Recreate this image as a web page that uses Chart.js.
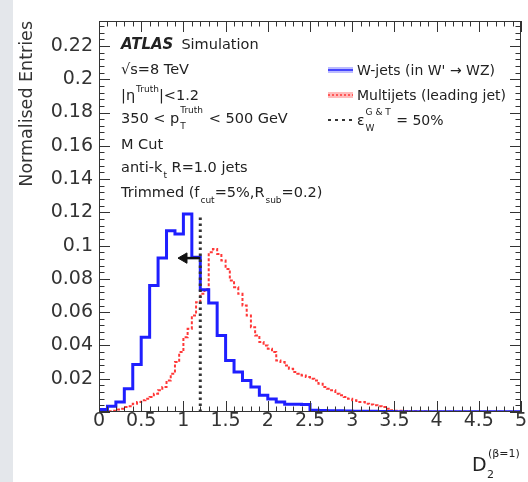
<!DOCTYPE html>
<html><head><meta charset="utf-8">
<script src="https://cdn.jsdelivr.net/npm/chart.js@4/dist/chart.umd.min.js"></script>
<style>
html,body{margin:0;padding:0;background:#fff;}
body{width:528px;height:482px;position:relative;overflow:hidden;}
#strip{position:absolute;left:0;top:0;width:13px;height:482px;background:#e4e7eb;}
#wrap{position:absolute;left:0;top:0;width:528px;height:482px;}
</style></head><body>
<div id="strip"></div>
<div id="wrap"><canvas id="c" width="528" height="482"></canvas></div>
<script>
// ---------------- data ----------------
const blueBinWidth = 0.1;
const blueValues = [
 0.0015,0.0035,0.0060,0.0140,0.0285,0.0450,0.0760,0.0925,0.1090,0.1070,
 0.1190,0.0930,0.0735,0.0655,0.0460,0.0310,0.0240,0.0190,0.0150,0.0100,
 0.0078,0.0060,0.0047,0.0046,0.0045,0.0010,0.0009,0.0008,0.0007,0.0006,
 0.0005,0.0004,0.0004,0.0003,0.0003,0.0002,0.0002,0.0002,0.0001,0.0001,
 0.0001,0.0001,0.0001,0.0001,0.0001,0.0001,0.0001,0.0001,0.0001,0.0001];
const redBinWidth = 0.05;
const redValues = [
 0.0003,0.0003,0.0005,0.0008,0.0015,0.0020,0.0030,0.0035,0.0050,0.0060,
 0.0070,0.0080,0.0090,0.0110,0.0130,0.0150,0.0190,0.0230,0.0300,0.0360,
 0.0450,0.0500,0.0580,0.0660,0.0710,0.0740,0.0960,0.0980,0.0950,0.0910,
 0.0860,0.0790,0.0750,0.0710,0.0640,0.0580,0.0510,0.0460,0.0420,0.0400,
 0.0380,0.0360,0.0310,0.0300,0.0280,0.0260,0.0240,0.0230,0.0220,0.0210,
 0.0200,0.0190,0.0170,0.0150,0.0140,0.0130,0.0110,0.0100,0.0090,0.0080,
 0.0070,0.0060,0.0060,0.0050,0.0045,0.0040,0.0035,0.0030,0.0020,0.0010,
 0.0008,0.0007,0.0006,0.0005,0.0004,0.0004,0.0003,0.0003,0.0002,0.0002,
 0.0002,0.0001,0.0001,0.0001,0.0001,0.0001,0.0001,0.0001,0.0001,0.0001,
 0.0001,0.0001,0.0001,0.0001,0.0001,0.0001,0.0001,0.0001,0.0001,0.0001];
const cutValue = 1.2;
const cutLineTop = 0.117;
const arrowY = 0.0925;
const arrowHeadX = 1.007;
const xTickValues = [0,0.5,1,1.5,2,2.5,3,3.5,4,4.5,5];
const xTickLabels = ['0','0.5','1','1.5','2','2.5','3','3.5','4','4.5','5'];
const yTickValues = [0.02,0.04,0.06,0.08,0.1,0.12,0.14,0.16,0.18,0.2,0.22];
const yTickLabels = ['0.02','0.04','0.06','0.08','0.1','0.12','0.14','0.16','0.18','0.2','0.22'];
const legendLabels = ["W-jets (in W' \u2192 WZ)", 'Multijets (leading jet)'];

function histPoints(vals, w){
  const pts = vals.map((v,i)=>({x:+(i*w).toFixed(4), y:v}));
  pts.push({x:+(vals.length*w).toFixed(4), y:vals[vals.length-1]});
  return pts;
}

const FAM = '"DejaVu Sans", sans-serif';
const TXT = '#222';
const BLUE = '#1f1fff';
const RED = '#ff3838';

// rich text: segments [text, mode, extra]
function drawRich(ctx, x, y, segs, size){
  let cx = x;
  const small = Math.round(size*0.62);
  ctx.textBaseline = 'alphabetic';
  ctx.textAlign = 'left';
  for (const s of segs){
    const mode = s[1] || 'n';
    if (mode === 'n'){
      ctx.font = (s[2]||'') + ' ' + size + 'px ' + FAM;
      ctx.fillText(s[0], cx, y); cx += ctx.measureText(s[0]).width;
    } else if (mode === 'p'){
      ctx.font = small + 'px ' + FAM;
      ctx.fillText(s[0], cx+1, y-8); cx += ctx.measureText(s[0]).width+1;
    } else if (mode === 'b'){
      ctx.font = small + 'px ' + FAM;
      ctx.fillText(s[0], cx+1, y+6); cx += ctx.measureText(s[0]).width+1;
    } else if (mode === 's'){
      ctx.font = small + 'px ' + FAM;
      const [sub, sup] = s[0];
      ctx.fillText(sub, cx+1, y+6);
      ctx.fillText(sup, cx+1, y-10);
      cx += Math.max(ctx.measureText(sub).width, ctx.measureText(sup).width)+2;
    }
  }
  return cx;
}

const decor = {
  id:'decor',
  afterDatasetsDraw(chart){
    const {ctx, chartArea:a, scales:{x, y}} = chart;
    ctx.save();
    ctx.strokeStyle = '#333'; ctx.lineWidth = 1;
    ctx.beginPath();
    for (let i=0;i<=50;i++){
      const px = Math.round(x.getPixelForValue(i*0.1))+0.5;
      const L = (i%5===0)?11:5.5;
      ctx.moveTo(px,a.bottom); ctx.lineTo(px,a.bottom-L);
      ctx.moveTo(px,a.top); ctx.lineTo(px,a.top+L);
    }
    for (let i=0; i*0.004 <= y.max+1e-9; i++){
      const py = Math.round(y.getPixelForValue(i*0.004))+0.5;
      const L = (i%5===0)?11:5.5;
      ctx.moveTo(a.left,py); ctx.lineTo(a.left+L,py);
      ctx.moveTo(a.right,py); ctx.lineTo(a.right-L,py);
    }
    ctx.stroke();
    ctx.strokeRect(a.left+0.5, a.top+0.5, a.right-a.left-1, a.bottom-a.top-1);
    ctx.restore();
  },
  afterDraw(chart){
    const ctx = chart.ctx;
    ctx.save();
    ctx.fillStyle = TXT;
    // ATLAS label
    ctx.textBaseline='alphabetic'; ctx.textAlign='left';
    ctx.font = 'italic bold 15px ' + FAM;
    ctx.fillText('ATLAS', 121, 49);
    let w = ctx.measureText('ATLAS').width;
    ctx.font = '14.5px ' + FAM;
    ctx.fillText('Simulation', 121 + w + 8, 49);
    const S = 14.5;
    drawRich(ctx, 121, 74, [['\u221As=8 TeV']], S);
    drawRich(ctx, 121, 100, [['|\u03B7'],['Truth','p'],['|<1.2']], S);
    drawRich(ctx, 121, 123, [['350 < p'],[['T','Truth'],'s'],[' < 500 GeV']], S);
    drawRich(ctx, 121, 149, [['M Cut']], S);
    drawRich(ctx, 121, 172, [['anti-k'],['t','b'],[' R=1.0 jets']], S);
    drawRich(ctx, 121, 197, [['Trimmed (f'],['cut','b'],['=5%,R'],['sub','b'],['=0.2)']], S);
    // legend
    const lx = 328, lw = 25;
    const rows = [70, 95, 120];
    // blue swatch
    ctx.fillStyle = 'rgba(60,60,255,0.35)';
    ctx.fillRect(lx, rows[0]-3, lw, 6);
    ctx.strokeStyle = BLUE; ctx.lineWidth = 1.5;
    ctx.beginPath(); ctx.moveTo(lx, rows[0]); ctx.lineTo(lx+lw, rows[0]); ctx.stroke();
    ctx.fillStyle = 'rgba(255,60,60,0.35)';
    ctx.fillRect(lx, rows[1]-3, lw, 6);
    ctx.strokeStyle = RED; ctx.setLineDash([2,2]);
    ctx.beginPath(); ctx.moveTo(lx, rows[1]); ctx.lineTo(lx+lw, rows[1]); ctx.stroke();
    ctx.strokeStyle = '#333'; ctx.lineWidth = 2; ctx.setLineDash([3,4]);
    ctx.beginPath(); ctx.moveTo(lx, rows[2]); ctx.lineTo(lx+lw, rows[2]); ctx.stroke();
    ctx.setLineDash([]);
    ctx.fillStyle = TXT;
    drawRich(ctx, 357, rows[0]+5, [[legendLabels[0]]], 14);
    drawRich(ctx, 357, rows[1]+5, [[legendLabels[1]]], 14);
    drawRich(ctx, 357, rows[2]+5, [['\u03B5'],[['W','G & T'],'s'],[' = 50%']], 14);
    // x axis title
    ctx.font = '19px ' + FAM;
    ctx.fillText('D', 472, 471);
    ctx.font = '11px ' + FAM;
    ctx.fillText('2', 487, 478);
    ctx.fillText('(\u03B2=1)', 488, 457);
    ctx.restore();
  }
};

const ctx = document.getElementById('c').getContext('2d');
new Chart(ctx, {
  type:'line',
  data:{
    datasets:[
      {label:'arrow', data:[{x:cutValue,y:arrowY},{x:arrowHeadX,y:arrowY}],
       borderColor:'#111', backgroundColor:'#111', borderWidth:2.5,
       pointRadius:[0,6], pointStyle:'triangle', pointRotation:-90, pointBorderWidth:1, order:0},
      {label:'cut', data:[{x:cutValue,y:0},{x:cutValue,y:cutLineTop}],
       borderColor:'#333', borderWidth:3, borderDash:[2.5,3.5], pointRadius:0, order:1},
      {label:legendLabels[0], data:histPoints(blueValues, blueBinWidth), stepped:'before',
       borderColor:BLUE, borderWidth:3, pointRadius:0, fill:false, order:2},
      {label:legendLabels[1], data:histPoints(redValues, redBinWidth), stepped:'before',
       borderColor:RED, borderWidth:2, borderDash:[3,2], pointRadius:0, fill:false, order:3}
    ]
  },
  options:{
    responsive:false, animation:false, devicePixelRatio:1,
    layout:{padding:{left:17, top:21, right:6, bottom:0}},
    plugins:{legend:{display:false}, tooltip:{enabled:false}},
    scales:{
      x:{type:'linear', min:0, max:5,
         grid:{display:false, drawTicks:false}, border:{display:false},
         afterBuildTicks:(s)=>{ s.ticks = xTickValues.map(v=>({value:v})); },
         afterFit:(s)=>{ s.height = 70; },
         ticks:{color:'#333', padding:0, maxRotation:0, autoSkip:false,
           font:{family:FAM, size:19, lineHeight:1},
           callback:(v)=>{ const i = xTickValues.indexOf(v); return i>=0 ? xTickLabels[i] : ''; }}},
      y:{type:'linear', min:0, max:0.235,
         grid:{display:false, drawTicks:false}, border:{display:false},
         afterBuildTicks:(s)=>{ s.ticks = yTickValues.map(v=>({value:v})); },
         afterFit:(s)=>{ s.width = 82; },
         title:{display:true, text:'Normalised Entries', align:'end', color:'#333',
           font:{family:FAM, size:17.5, lineHeight:1.2}, padding:{top:0,bottom:0}},
         ticks:{color:'#333', padding:6, autoSkip:false,
           font:{family:FAM, size:19, lineHeight:1},
           callback:(v)=>{ const i = yTickValues.findIndex(t=>Math.abs(t-v)<1e-9); return i>=0 ? yTickLabels[i] : ''; }}}
    }
  },
  plugins:[decor]
});
</script>
</body></html>
